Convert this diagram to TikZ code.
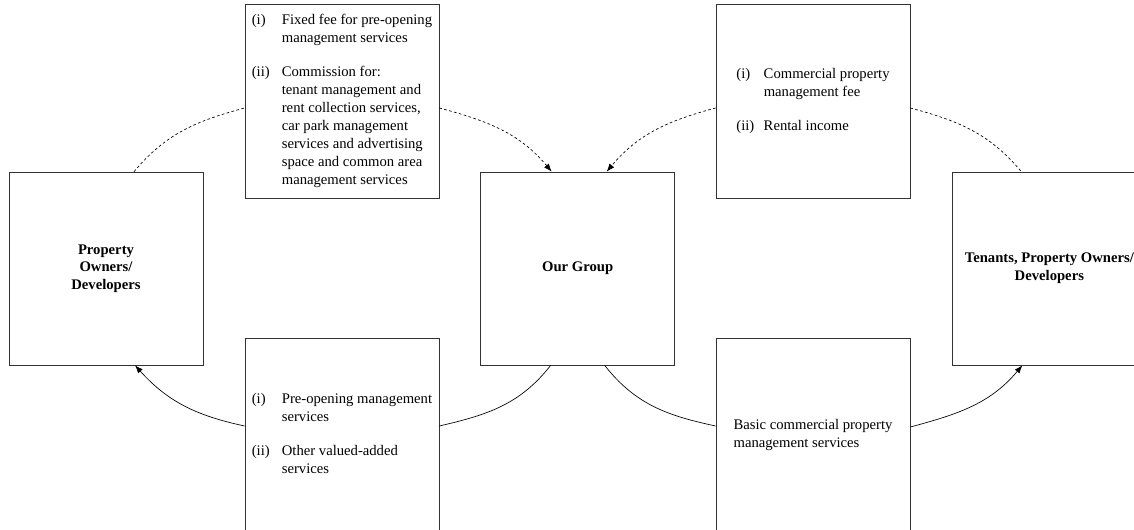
\documentclass[tikz,border=0pt]{standalone}
\usepackage{fontspec}
\setmainfont{Liberation Serif}
\usetikzlibrary{arrows.meta, positioning}

\begin{document}
\begin{tikzpicture}[
  x=0.75pt, y=0.75pt,
  party/.style={rectangle, draw=black!80, line width=0.5pt, minimum width=145.5pt, minimum height=144.75pt, inner sep=0pt, align=center, font=\fontsize{11}{13.2}\selectfont\bfseries},
  flow/.style={rectangle, draw=black!80, line width=0.5pt, minimum width=145.5pt, minimum height=145.5pt, inner sep=0pt, align=left, font=\fontsize{11}{13.5}\selectfont},
  money/.style={line width=0.5pt, dash pattern=on 2pt off 1.8pt, -{Latex[length=6pt,width=4.5pt]}},
  moneyline/.style={line width=0.5pt, dash pattern=on 2pt off 1.8pt},
  service/.style={line width=0.5pt, -{Latex[length=6pt,width=4.5pt]}},
  serviceline/.style={line width=0.5pt}
]

\clip (0,0) rectangle (1134,530);

% Parties
\node[party] (owners) at (106,261.5) {Property\\Owners/\\Developers};
\node[party, right=207.75pt of owners] (group) {Our Group};
\node[party, right=207.75pt of group] (tenants) {Tenants, Property Owners/\\Developers};

% Income
\node[flow] (feeA) at (342,429) {\begin{tabular}{@{}p{22.5pt}@{}l@{}}
(i) & Fixed fee for pre-opening\\
    & management services\\[12pt]
(ii) & Commission for:\\
     & tenant management and\\
     & rent collection services,\\
     & car park management\\
     & services and advertising\\
     & space and common area\\
     & management services
\end{tabular}};
\node[flow] (feeB) at (813,429) {\begin{tabular}{@{}p{20.5pt}@{}l@{}}
(i) & Commercial property\\
    & management fee\\[12pt]
(ii) & Rental income
\end{tabular}};

% Services
\node[flow] (servA) at (342,95) {\begin{tabular}{@{}p{22.5pt}@{}l@{}}
(i) & Pre-opening management\\
    & services\\[12pt]
(ii) & Other valued-added\\
     & services
\end{tabular}};
\node[flow] (servB) at (813,95) {Basic commercial property\\management services};

% Income connections
\draw[moneyline] ([xshift=21pt]owners.north) to[out=50, in=195] ([yshift=-5.25pt]feeA.west);
\draw[money] ([yshift=-5.25pt]feeA.east) to[out=-15, in=130] ([xshift=-19.5pt]group.north);
\draw[money] ([yshift=-5.25pt]feeB.west) to[out=195, in=50] ([xshift=21.75pt]group.north);
\draw[moneyline] ([yshift=-5.25pt]feeB.east) to[out=-15, in=130] ([xshift=-21pt]tenants.north);

% Service connections
\draw[service] ([yshift=6.75pt]servA.west) to[out=168, in=-48] ([xshift=21.75pt]owners.south);
\draw[serviceline] ([xshift=-20.25pt]group.south) to[out=-128, in=13] ([yshift=6.75pt]servA.east);
\draw[serviceline] ([xshift=20.25pt]group.south) to[out=-52, in=168] ([yshift=6.75pt]servB.west);
\draw[service] ([yshift=6pt]servB.east) to[out=15, in=-130] ([xshift=-20.25pt]tenants.south);

\end{tikzpicture}
\end{document}
